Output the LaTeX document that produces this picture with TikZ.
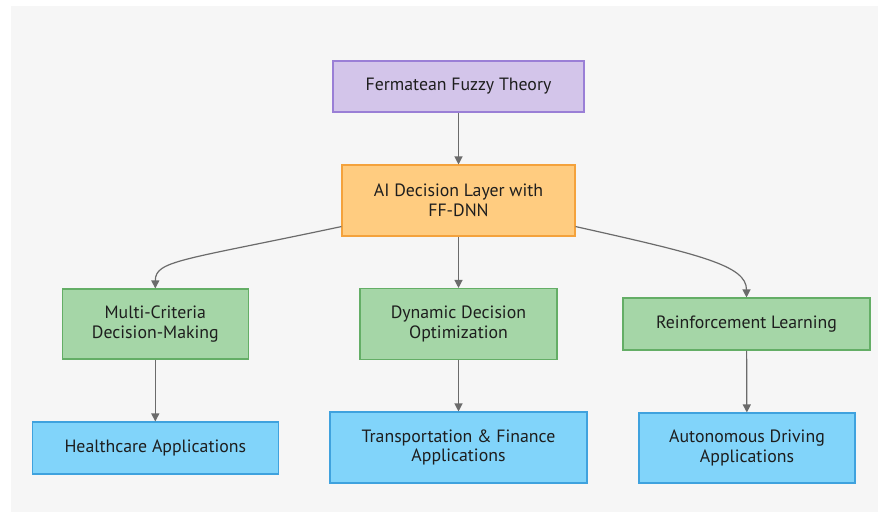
\documentclass[tikz,border=0pt]{standalone}
\usepackage{fontspec}
\setmainfont{PT Sans}
\usepackage{tikz}
\usetikzlibrary{arrows.meta,positioning}
\usepackage{xcolor}

\definecolor{bggray}{HTML}{F6F6F6}
\definecolor{linegray}{HTML}{6B6B6B}
\definecolor{txtdark}{HTML}{1E1E1E}
\definecolor{purplefill}{HTML}{D3C5EA}
\definecolor{purpleline}{HTML}{9A7FD6}
\definecolor{orangefill}{HTML}{FFCC80}
\definecolor{orangeline}{HTML}{F4A23C}
\definecolor{greenfill}{HTML}{A5D6A7}
\definecolor{greenline}{HTML}{64AE66}
\definecolor{bluefill}{HTML}{81D4FA}
\definecolor{blueline}{HTML}{3FA2DE}

\tikzset{
  box/.style={draw, line width=1.1pt, inner sep=0pt, align=center,
    text=txtdark, font=\fontsize{17.8}{19.5}\selectfont},
  theorybox/.style={box, fill=purplefill, draw=purpleline},
  layerbox/.style={box, fill=orangefill, draw=orangeline},
  methodbox/.style={box, fill=greenfill, draw=greenline},
  appbox/.style={box, fill=bluefill, draw=blueline},
  flow/.style={-{Triangle[length=8pt,width=8pt]}, draw=linegray,
    line width=1.2pt},
}

\begin{document}
\begin{tikzpicture}[x=1pt,y=-1pt]
			% canvas
			\useasboundingbox (0,0) rectangle (878,512);
			\fill[bggray] (11,6) rectangle (878,512);

			% top: theory and decision layer
			\node[theorybox, minimum width=251pt, minimum height=51pt]
				(theory) at (458.5,86.5) {Fermatean Fuzzy Theory};
			\node[layerbox, minimum width=233pt, minimum height=71pt]
				(layer) at (458.5,200.5) {AI Decision Layer with\\FF-DNN};

			% middle row: methods
			\node[methodbox, minimum width=186pt, minimum height=70pt]
				(mcdm) at (155.3,324) {Multi-Criteria\\Decision-Making};
			\node[methodbox, minimum width=197pt, minimum height=71pt]
				(ddo) at (458.5,324) {Dynamic Decision\\Optimization};
			\node[methodbox, minimum width=247pt, minimum height=52pt]
				(rl) at (746.5,324) {Reinforcement Learning};

			% bottom row: applications
			\node[appbox, minimum width=246pt, minimum height=52pt]
				(health) at (155.3,448) {Healthcare Applications};
			\node[appbox, minimum width=257pt, minimum height=71pt]
				(transfin) at (458.5,447.5) {Transportation \& Finance\\Applications};
			\node[appbox, minimum width=216pt, minimum height=70pt]
				(auto) at (747,448) {Autonomous Driving\\Applications};

			% connectors
			\draw[flow] (theory) -- (layer);
			\draw[flow] (layer) -- (ddo);
			\draw[flow] ([yshift=10pt]layer.south west)
				.. controls +(-160,34) and +(0,-28) .. (mcdm.north);
			\draw[flow] ([yshift=10pt]layer.south east)
				.. controls +(125,28) and +(0,-32) .. (rl.north);
			\draw[flow] (mcdm) -- (health);
			\draw[flow] (ddo) -- (transfin);
			\draw[flow] (rl) -- (auto);
\end{tikzpicture}
\end{document}
